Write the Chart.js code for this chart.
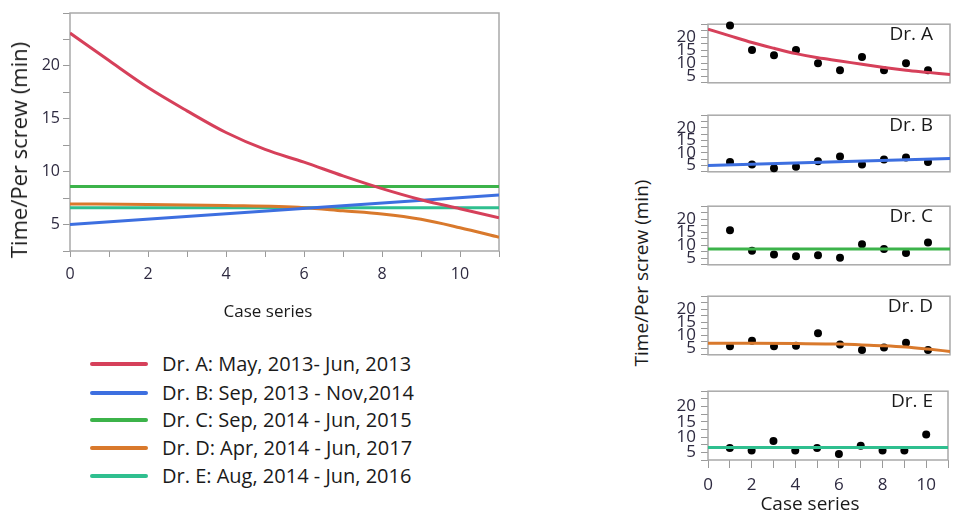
<!DOCTYPE html>
<html>
<head>
<meta charset="utf-8">
<script src="https://cdn.jsdelivr.net/npm/chart.js@4.4.1/dist/chart.umd.min.js"></script>
<style>
  html, body { margin: 0; padding: 0; background: #fff; }
  body { width: 955px; height: 512px; position: relative; overflow: hidden;
         font-family: 'Open Sans', 'Segoe UI', sans-serif; color: #1a1a1a; }
  .box { position: absolute; }
  .txt { position: absolute; white-space: nowrap; transform: translate(-50%, -50%); }
  .rot { transform: translate(-50%, -50%) rotate(-90deg); }
  .tag { position: absolute; font-size: 19px; line-height: 24px; }
  .leg-line { position: absolute; left: 90px; width: 58px; height: 3.5px; border-radius: 2px; }
  .leg-text { position: absolute; left: 162px; font-size: 20px; line-height: 26px; white-space: nowrap; }
</style>
</head>
<body>

<div class="box" style="left:0;top:0;width:520px;height:330px"><canvas id="main"></canvas></div>
<div class="txt rot" style="left:18px;top:150px;font-size:22px">Time/Per screw (min)</div>
<div class="txt" style="left:268px;top:310px;font-size:17px">Case series</div>

<div id="legend"></div>

<div id="panels"></div>
<div class="txt rot" style="left:641px;top:273px;font-size:19px">Time/Per screw (min)</div>
<div class="txt" style="left:810px;top:503px;font-size:19px">Case series</div>

<script>
// fitted curves (main chart + panels)
const fitAX = [0, 1, 2, 3, 4, 5, 6, 7, 8, 9, 10, 11];
const fitA = [23.1, 20.5, 17.95, 15.75, 13.7, 12.1, 10.9, 9.6, 8.4, 7.35, 6.5, 5.65];
const fitBX = [0, 11];
const fitB = [5.0, 7.8];
const fitCX = [0, 11];
const fitC = [8.6, 8.6];
const fitDX = [0, 2, 4, 6, 7, 8, 9, 10, 11];
const fitD = [6.95, 6.9, 6.8, 6.6, 6.3, 6.0, 5.5, 4.7, 3.8];
const fitEX = [0, 11];
const fitE = [6.6, 6.6];

// observed cases per surgeon
const caseX = [1, 2, 3, 4, 5, 6, 7, 8, 9, 10];
const casesA = [24.5, 15.1, 13.1, 15.1, 10.0, 7.3, 12.4, 7.3, 10.0, 7.3];
const casesB = [6.4, 5.4, 3.9, 4.5, 6.7, 8.6, 5.4, 7.4, 8.2, 6.4];
const casesC = [15.8, 7.9, 6.5, 5.8, 6.2, 5.2, 10.4, 8.6, 7.0, 11.1];
const casesD = [5.8, 7.9, 5.8, 6.0, 10.8, 6.5, 4.3, 5.3, 7.1, 4.3];
const casesE = [6.45, 5.6, 8.7, 5.6, 6.45, 4.5, 7.2, 5.6, 5.6, 10.8];

const doctors = ['Dr. A', 'Dr. B', 'Dr. C', 'Dr. D', 'Dr. E'];
const periods = ['May, 2013- Jun, 2013', 'Sep, 2013 - Nov,2014', 'Sep, 2014 - Jun, 2015',
                 'Apr, 2014 - Jun, 2017', 'Aug, 2014 - Jun, 2016'];
const colors = ['#d6405a', '#3d6fe0', '#3cb34a', '#d9792c', '#2fbf8f'];

const yTicks = [5, 10, 15, 20];
const xTicks = [0, 2, 4, 6, 8, 10];

const fits = [[fitAX, fitA], [fitBX, fitB], [fitCX, fitC], [fitDX, fitD], [fitEX, fitE]];
const cases = [casesA, casesB, casesC, casesD, casesE];

function xy(xs, ys) {
  return xs.map((x, i) => ({ x: x, y: ys[i] }));
}

Chart.defaults.font.family = "'Open Sans', 'Segoe UI', sans-serif";
Chart.defaults.color = '#2e2a40';
Chart.defaults.animation = false;

// grey box round the plot area
const framePlugin = {
  id: 'frame',
  beforeDatasetsDraw(chart) {
    const a = chart.chartArea;
    const ctx = chart.ctx;
    ctx.save();
    ctx.strokeStyle = '#a9a9a9';
    ctx.lineWidth = 1.5;
    ctx.strokeRect(a.left, a.top, a.right - a.left, a.bottom - a.top);
    ctx.restore();
  }
};

function fitDataset(i) {
  return {
    data: xy(fits[i][0], fits[i][1]),
    borderColor: colors[i],
    borderWidth: 3,
    pointRadius: 0,
    fill: false,
    cubicInterpolationMode: 'monotone'
  };
}

// main chart
new Chart(document.getElementById('main'), {
  type: 'line',
  data: { datasets: doctors.map((d, i) => fitDataset(i)) },
  plugins: [framePlugin],
  options: {
    responsive: true,
    maintainAspectRatio: false,
    layout: { padding: { top: 13, right: 21, left: 0, bottom: 0 } },
    plugins: { legend: { display: false }, tooltip: { enabled: false } },
    scales: {
      x: {
        type: 'linear', min: 0, max: 11,
        afterFit: s => { s.height = 79; },
        border: { display: false },
        grid: { drawOnChartArea: false, tickLength: 6, color: '#9a9a9a' },
        ticks: { stepSize: 1, autoSkip: false, maxRotation: 0, padding: 8,
                 font: { size: 16 },
                 callback: v => xTicks.includes(v) ? String(v) : '' }
      },
      y: {
        min: 2.5, max: 25,
        afterFit: s => { s.width = 70; },
        border: { display: false },
        grid: { drawOnChartArea: false, tickLength: 7, color: '#9a9a9a' },
        ticks: { stepSize: 2.5, autoSkip: false, padding: 3,
                 font: { size: 16 },
                 callback: v => yTicks.includes(v) ? String(v) : '' }
      }
    }
  }
});

// legend
const legend = document.getElementById('legend');
const legendY = [364, 393, 420, 448, 476];
doctors.forEach((d, i) => {
  const line = document.createElement('div');
  line.className = 'leg-line';
  line.style.top = (legendY[i] - 2) + 'px';
  line.style.background = colors[i];
  legend.appendChild(line);
  const t = document.createElement('div');
  t.className = 'leg-text';
  t.style.top = (legendY[i] - 13) + 'px';
  t.textContent = d + ': ' + periods[i];
  legend.appendChild(t);
});

// small panels
const panelTop = [15, 106, 197, 287, 382];
const panelBottom = [94, 183, 276, 366, 460];
const panels = document.getElementById('panels');

doctors.forEach((d, i) => {
  const last = i === doctors.length - 1;
  const top = panelTop[i] - 6;
  const xh = last ? 40 : 4;
  const h = panelBottom[i] - top + xh;

  const box = document.createElement('div');
  box.className = 'box';
  box.style.cssText = 'left:655px;top:' + top + 'px;width:300px;height:' + h + 'px';
  const cv = document.createElement('canvas');
  box.appendChild(cv);
  panels.appendChild(box);

  const tag = document.createElement('div');
  tag.className = 'tag';
  tag.style.right = '22px';
  tag.style.top = (panelTop[i] + 6) + 'px';
  tag.textContent = d;
  panels.appendChild(tag);

  new Chart(cv, {
    type: 'line',
    data: {
      datasets: [
        fitDataset(i),
        {
          data: xy(caseX, cases[i]),
          showLine: false,
          pointRadius: 4,
          pointBackgroundColor: '#000',
          pointBorderColor: '#000',
          pointBorderWidth: 0,
          clip: false
        }
      ]
    },
    plugins: [framePlugin],
    options: {
      responsive: true,
      maintainAspectRatio: false,
      layout: { padding: { top: 6, right: 5, left: 0, bottom: 0 } },
      plugins: { legend: { display: false }, tooltip: { enabled: false } },
      scales: {
        x: {
          type: 'linear', min: 0, max: 11,
          afterFit: s => { s.height = xh; },
          border: { display: false },
          grid: { display: last, drawOnChartArea: false, tickLength: 8, color: '#9a9a9a' },
          ticks: { display: last, stepSize: 1, autoSkip: false, maxRotation: 0, padding: 7,
                   font: { size: 17 },
                   callback: v => xTicks.includes(v) ? String(v) : '' }
        },
        y: {
          min: 2.5, max: 25,
          afterFit: s => { s.width = 53; },
          border: { display: false },
          grid: { drawOnChartArea: false, tickLength: 7, color: '#9a9a9a' },
          ticks: { stepSize: 2.5, autoSkip: false, padding: 5,
                   font: { size: 17 },
                   callback: v => yTicks.includes(v) ? String(v) : '' }
        }
      }
    }
  });
});
</script>
</body>
</html>
